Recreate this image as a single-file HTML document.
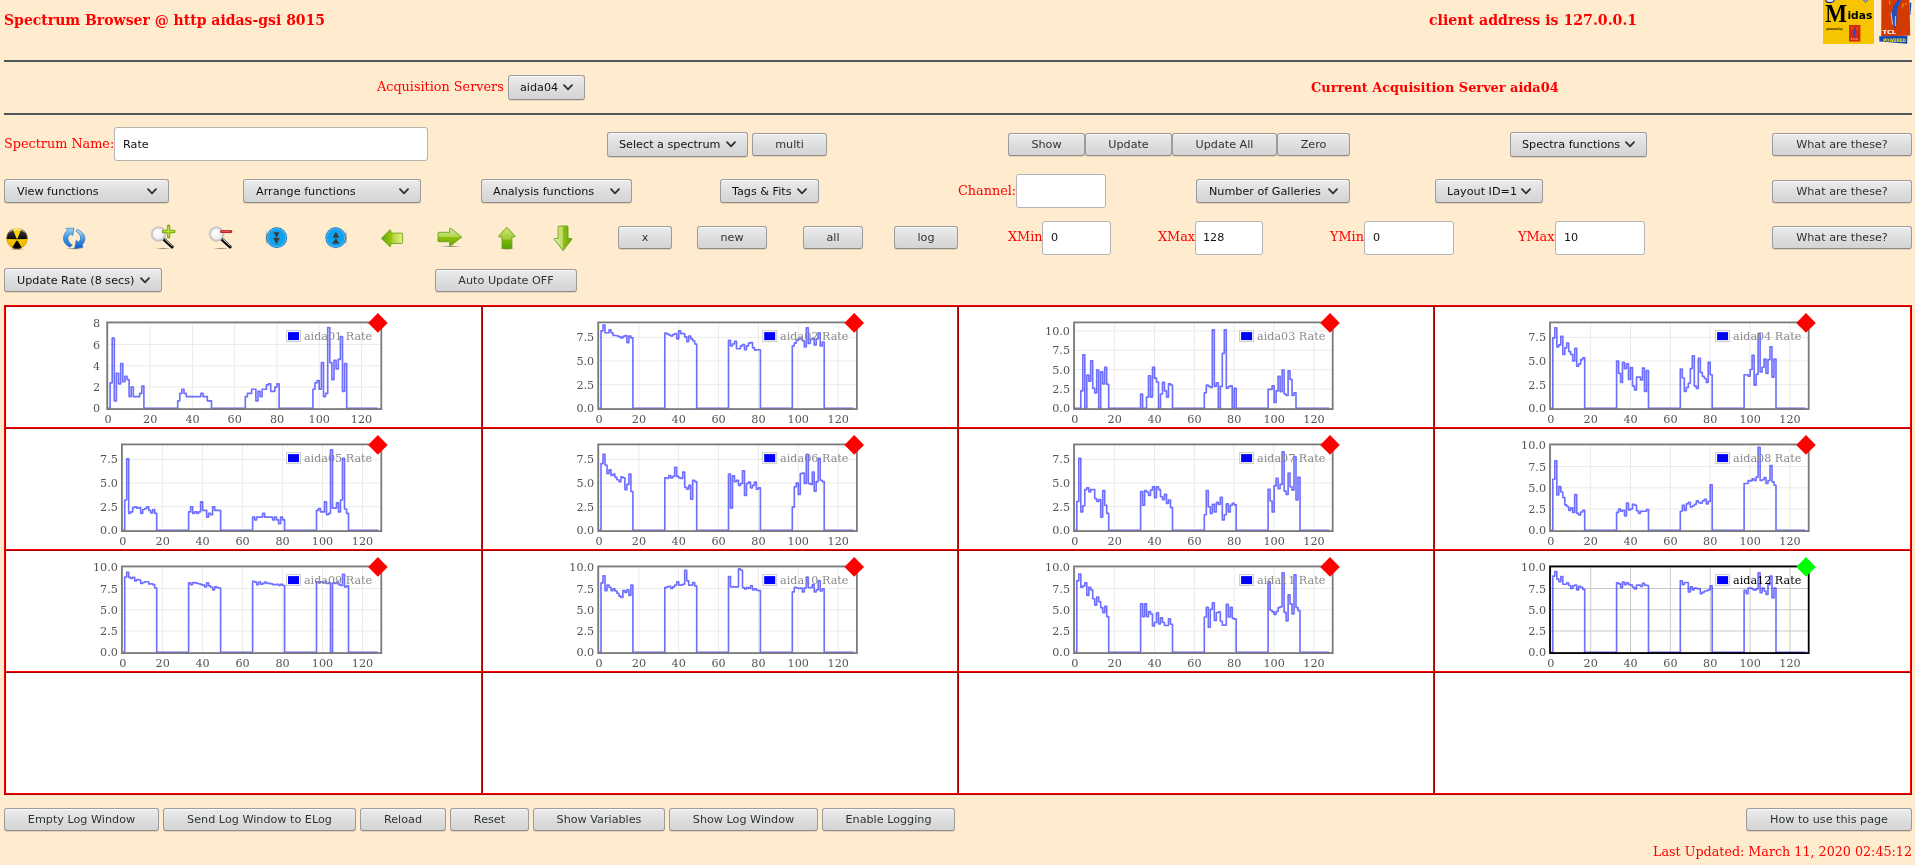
<!DOCTYPE html><html lang="en"><head><meta charset="utf-8"><title>Spectrum Browser @ http aidas-gsi 8015</title><style>
html,body{margin:0;padding:0}
body{width:1915px;height:865px;overflow:hidden;background:#ffebcd}
#page{position:absolute;left:0;top:0;width:1915px;height:865px;overflow:hidden;background:#ffebcd;will-change:transform;
 font-family:"DejaVu Serif","Liberation Serif",serif;font-size:12.8px;color:#f00}
.a{position:absolute;white-space:nowrap}
.t{position:absolute;white-space:nowrap;line-height:16px;height:16px}
.h{font-weight:bold;font-size:14px;line-height:18px;height:18px}
.hb{font-weight:bold}
hr.r{position:absolute;left:4px;width:1908px;height:2px;margin:0;border:0;background:#50555c}
button,.sel,input.i{position:absolute;box-sizing:border-box;font-family:"DejaVu Sans","Liberation Sans",sans-serif;font-size:11.2px;margin:0}
button{height:22px;padding:0;border:1px solid #9c9c9c;border-bottom-color:#8c8c8c;box-shadow:0 1px 0 rgba(120,100,70,.18),inset 0 1px 0 rgba(255,255,255,.75);border-radius:3px;color:#2e3436;
 background:linear-gradient(#ececec,#dcdcdc 60%,#d4d4d4);text-align:center;line-height:20px}
.sel{height:24px;border:1px solid #9c9c9c;border-bottom-color:#8c8c8c;box-shadow:0 1px 0 rgba(120,100,70,.18),inset 0 1px 0 rgba(255,255,255,.75);border-radius:3px;background:linear-gradient(#ececec,#dcdcdc 60%,#d4d4d4);display:block}
.sel select{appearance:none;-webkit-appearance:none;border:0;background:transparent;font:inherit;color:#111;
 width:100%;height:100%;padding:0 0 0 12px;margin:0;outline:0;display:block}
.sel svg{position:absolute;right:11px;top:50%;margin-top:-3.5px;width:10px;height:7px;pointer-events:none}
input.i{height:34px;border:1px solid #b4b4b4;border-radius:3px;background:#fff;color:#111;padding:0 0 2px 8px;outline:0}
#grid{position:absolute;left:4px;top:305px;width:1908px;height:490px;background:#fff}
#grid i{position:absolute;display:block}
.ch{position:absolute;overflow:visible}
.ch text{font-family:"DejaVu Serif","Liberation Serif",serif;font-size:11.2px;fill:#545454}
.ico{position:absolute;width:28px;height:28px;overflow:visible}
</style></head><body><div id="page">
<span class="t h" style="left:4px;top:11px">Spectrum Browser @ http aidas-gsi 8015</span>
<span class="t h" style="left:1429px;top:11px;font-size:14.13px">client address is 127.0.0.1</span>
<svg class="a" role="img" aria-label="Midas powered by TCL" style="left:1820px;top:0" width="95" height="48" viewBox="1820 0 95 48"><title>Midas powered by TCL</title>
<rect x="1823" y="0" width="51" height="44" fill="#f6c500"/>
<ellipse cx="1830" cy="0" rx="4.2" ry="2.6" fill="#e8e8f8" stroke="#1a2a8a" stroke-width="1.2"/>
<path d="M1863.5 0 L1865.5 2.6 L1867.5 0Z" fill="#f0f0ff" stroke="#2a3aa0" stroke-width="0.8"/>
<text x="1825.2" y="21.6" style="font-family:'Liberation Serif','DejaVu Serif',serif;font-weight:bold;font-size:24.5px;fill:#000" textLength="21.8" lengthAdjust="spacingAndGlyphs">M</text>
<text x="1847.4" y="19.2" style="font-family:'DejaVu Sans','Liberation Sans',sans-serif;font-weight:bold;font-size:10.6px;fill:#000" textLength="25" lengthAdjust="spacingAndGlyphs">idas</text>
<text x="1826.6" y="29.6" style="font-family:'DejaVu Sans','Liberation Sans',sans-serif;font-weight:bold;font-size:3.4px;fill:#111" textLength="16" lengthAdjust="spacingAndGlyphs">powered by</text>
<rect x="1849" y="25" width="11.4" height="16.6" fill="#d42a10"/>
<path d="M1855.6 27.4C1853.4 30 1852.8 34 1854.2 37.2C1855.8 34.4 1856.6 30.6 1855.6 27.4Z" fill="#2a50c8"/>
<path d="M1851.6 26.6L1852.6 29.4M1857.6 27.2L1856.8 29.6" stroke="#f4a020" stroke-width="0.7"/>
<text x="1850.2" y="40" style="font-family:'DejaVu Sans',sans-serif;font-weight:bold;font-size:2.4px;fill:#f8b0a0" textLength="8.6" lengthAdjust="spacingAndGlyphs">TCL</text>
<path d="M1881.4 0H1909.4L1910.2 35.6L1881.2 36.4Z" fill="#d23a02"/>
<path d="M1879.2 36.2L1907.4 35.8L1907.2 43.8L1879.4 41.6Z" fill="#1048b8"/>
<path d="M1909.6 3L1911.4 2.4L1910.4 15L1909.6 15Z" fill="#1048b8"/>
<path d="M1898.4 0C1893.4 4 1890.6 12 1892.2 20C1893 24 1894.2 27 1895.4 29.6C1896.6 24 1897 18 1896.6 12C1897.6 8 1899.6 3 1901.2 0Z" fill="#1c50c4"/>
<path d="M1891.0 12.6L1892.6 24.6M1895.4 16V26" stroke="#f0e8e0" stroke-width="0.8" fill="none"/>
<path d="M1889.4 0.6L1890.0 4.6M1903.4 3.4L1902.2 7.4M1906.4 2.8L1905.6 4.8" stroke="#f4a818" stroke-width="0.9"/>
<text x="1882.6" y="34" style="font-family:'DejaVu Sans','Liberation Sans',sans-serif;font-weight:bold;font-size:5.4px;fill:#fff" textLength="13.4" lengthAdjust="spacingAndGlyphs">TCL</text>
<text x="1883.2" y="41.6" style="font-family:'DejaVu Sans','Liberation Sans',sans-serif;font-weight:bold;font-size:4.8px;fill:#f2e020" textLength="22.6" lengthAdjust="spacingAndGlyphs">POWERED</text>
</svg>
<hr class="r" style="top:60px">
<span class="t " style="left:377px;top:79px">Acquisition Servers</span>
<label class="sel" style="left:508px;top:75px;width:77px;height:25px"><select style="padding-left:11px"><option>aida04</option><option>aida01</option><option>aida02</option><option>aida03</option></select><svg viewBox="0 0 10 7"><path d="M1 1.2 L5 5.4 L9 1.2" fill="none" stroke="#2e3436" stroke-width="1.8" stroke-linecap="round" stroke-linejoin="round"/></svg></label>
<span class="t hb" style="left:1311px;top:80px;font-size:12.9px">Current Acquisition Server aida04</span>
<hr class="r" style="top:113px">
<span class="t " style="left:4px;top:136px">Spectrum Name:</span>
<input class="i" type="text" value="Rate" style="left:114px;top:127px;width:314px;height:34px;padding-left:8px;padding-bottom:0px">
<label class="sel" style="left:607px;top:132px;width:141px;height:25px"><select style="padding-left:11px"><option>Select a spectrum</option></select><svg viewBox="0 0 10 7"><path d="M1 1.2 L5 5.4 L9 1.2" fill="none" stroke="#2e3436" stroke-width="1.8" stroke-linecap="round" stroke-linejoin="round"/></svg></label>
<button type="button" style="left:752px;top:133px;width:75px;height:23px">multi</button>
<button type="button" style="left:1008px;top:133px;width:77px;height:23px">Show</button>
<button type="button" style="left:1085px;top:133px;width:87px;height:23px">Update</button>
<button type="button" style="left:1172px;top:133px;width:105px;height:23px">Update All</button>
<button type="button" style="left:1277px;top:133px;width:73px;height:23px">Zero</button>
<label class="sel" style="left:1510px;top:132px;width:137px;height:25px"><select style="padding-left:11px"><option>Spectra functions</option></select><svg viewBox="0 0 10 7"><path d="M1 1.2 L5 5.4 L9 1.2" fill="none" stroke="#2e3436" stroke-width="1.8" stroke-linecap="round" stroke-linejoin="round"/></svg></label>
<button type="button" style="left:1772px;top:133px;width:140px;height:23px">What are these?</button>
<label class="sel" style="left:4px;top:179px;width:165px;height:24px"><select style="padding-left:12px"><option>View functions</option></select><svg viewBox="0 0 10 7"><path d="M1 1.2 L5 5.4 L9 1.2" fill="none" stroke="#2e3436" stroke-width="1.8" stroke-linecap="round" stroke-linejoin="round"/></svg></label>
<label class="sel" style="left:243px;top:179px;width:178px;height:24px"><select style="padding-left:12px"><option>Arrange functions</option></select><svg viewBox="0 0 10 7"><path d="M1 1.2 L5 5.4 L9 1.2" fill="none" stroke="#2e3436" stroke-width="1.8" stroke-linecap="round" stroke-linejoin="round"/></svg></label>
<label class="sel" style="left:481px;top:179px;width:151px;height:24px"><select style="padding-left:11px"><option>Analysis functions</option></select><svg viewBox="0 0 10 7"><path d="M1 1.2 L5 5.4 L9 1.2" fill="none" stroke="#2e3436" stroke-width="1.8" stroke-linecap="round" stroke-linejoin="round"/></svg></label>
<label class="sel" style="left:720px;top:179px;width:99px;height:24px"><select style="padding-left:11px"><option>Tags &amp; Fits</option></select><svg viewBox="0 0 10 7"><path d="M1 1.2 L5 5.4 L9 1.2" fill="none" stroke="#2e3436" stroke-width="1.8" stroke-linecap="round" stroke-linejoin="round"/></svg></label>
<span class="t " style="left:958px;top:183px">Channel:</span>
<input class="i" type="text" value="" style="left:1016px;top:174px;width:90px;height:34px;padding-left:8px;padding-bottom:2px">
<label class="sel" style="left:1196px;top:179px;width:154px;height:24px"><select style="padding-left:12px"><option>Number of Galleries</option></select><svg viewBox="0 0 10 7"><path d="M1 1.2 L5 5.4 L9 1.2" fill="none" stroke="#2e3436" stroke-width="1.8" stroke-linecap="round" stroke-linejoin="round"/></svg></label>
<label class="sel" style="left:1435px;top:179px;width:108px;height:24px"><select style="padding-left:11px"><option>Layout ID=1</option></select><svg viewBox="0 0 10 7"><path d="M1 1.2 L5 5.4 L9 1.2" fill="none" stroke="#2e3436" stroke-width="1.8" stroke-linecap="round" stroke-linejoin="round"/></svg></label>
<button type="button" style="left:1772px;top:180px;width:140px;height:23px">What are these?</button>
<svg class="a" style="left:0;top:220px" width="600" height="36" viewBox="0 220 600 36">
<defs>
<radialGradient id="gy" cx="0.5" cy="0.35" r="0.75"><stop offset="0" stop-color="#ffe000"/><stop offset="0.7" stop-color="#f2b800"/><stop offset="1" stop-color="#d89a00"/></radialGradient>
<linearGradient id="gk" x1="0" y1="0" x2="0" y2="1"><stop offset="0" stop-color="#3a3a40"/><stop offset="0.5" stop-color="#0c0c10"/><stop offset="1" stop-color="#000"/></linearGradient>
<linearGradient id="gb1" x1="0" y1="0" x2="0" y2="1"><stop offset="0" stop-color="#9fd2f7"/><stop offset="0.5" stop-color="#3b96e0"/><stop offset="1" stop-color="#1c6fcc"/></linearGradient>
<linearGradient id="gb2" x1="0" y1="0" x2="0" y2="1"><stop offset="0" stop-color="#c4e3fa"/><stop offset="0.45" stop-color="#4aa0e4"/><stop offset="1" stop-color="#0a5cc4"/></linearGradient>
<radialGradient id="gl" cx="0.45" cy="0.4" r="0.6"><stop offset="0" stop-color="#fff"/><stop offset="0.8" stop-color="#efecec"/><stop offset="1" stop-color="#ddd"/></radialGradient>
<radialGradient id="gc" cx="0.5" cy="0.5" r="0.5"><stop offset="0" stop-color="#0aa4ee"/><stop offset="0.78" stop-color="#12a0ec"/><stop offset="0.86" stop-color="#55bdf4"/><stop offset="0.93" stop-color="#1e8ee0"/><stop offset="1" stop-color="#1668b8"/></radialGradient>
<linearGradient id="gL" x1="0" y1="0" x2="1" y2="0"><stop offset="0" stop-color="#62a60c"/><stop offset="0.45" stop-color="#94c40e"/><stop offset="0.55" stop-color="#b4d63c"/><stop offset="1" stop-color="#e6ee8c"/></linearGradient>
<linearGradient id="gR" x1="0" y1="0" x2="0" y2="1"><stop offset="0" stop-color="#d2e898"/><stop offset="0.48" stop-color="#b4d650"/><stop offset="0.52" stop-color="#8cc010"/><stop offset="1" stop-color="#6aa80c"/></linearGradient>
<linearGradient id="gU" x1="0" y1="0" x2="0" y2="1"><stop offset="0" stop-color="#d0e470"/><stop offset="0.55" stop-color="#a4cc3c"/><stop offset="0.62" stop-color="#7cb80c"/><stop offset="1" stop-color="#58a008"/></linearGradient>
<linearGradient id="gD" x1="0" y1="0" x2="1" y2="0"><stop offset="0" stop-color="#e4f0a8"/><stop offset="0.48" stop-color="#bcd860"/><stop offset="0.52" stop-color="#8cc010"/><stop offset="1" stop-color="#6aa80c"/></linearGradient>
<radialGradient id="gs" cx="0.5" cy="0.5" r="0.5"><stop offset="0" stop-color="#000" stop-opacity="0.45"/><stop offset="1" stop-color="#000" stop-opacity="0"/></radialGradient>
</defs>
<ellipse cx="17.0" cy="249.1" rx="8" ry="1.3" fill="url(#gs)"/>
<circle cx="17.0" cy="238.5" r="10.5" fill="url(#gy)"/>
<path d="M17.0 239.5L27.49 239.05A10.5 10.5 0 0 0 21.27 228.91ZM17.0 239.5L12.73 228.91A10.5 10.5 0 0 0 6.51 239.05ZM17.0 239.5L12.23 247.86A10.5 10.5 0 0 0 21.77 247.86Z" fill="url(#gk)"/>
<path d="M6.8 240.1H27.2" stroke="#f6c800" stroke-width="1.2"/>
<circle cx="17.0" cy="238.5" r="10.2" fill="none" stroke="#c89000" stroke-opacity="0.55" stroke-width="0.7"/>
<path d="M8.4 232.9A10.2 10.2 0 0 1 25.6 232.9A12 9 0 0 0 8.4 232.9Z" fill="#fff" fill-opacity="0.55"/>
<ellipse cx="74.5" cy="248.6" rx="9" ry="1.2" fill="url(#gs)"/>
<path d="M70.0 247.2C66.0 245.4 63.2 242.0 63.5 238.0C63.6 235.0 65.0 232.4 67.4 230.4L66.0 228.4L73.9 228.1L72.9 235.4L70.5 234.0C68.6 235.6 67.8 237.0 67.9 238.6C68.0 241.2 69.8 243.6 72.3 245.1Z" fill="url(#gb1)" stroke="#1e6cc8" stroke-width="0.6" stroke-linejoin="round"/>
<path d="M77.0 229.6C81.2 230.8 84.8 234.2 84.85 238.3C84.9 241.0 83.8 243.2 82.0 245.0L83.0 247.2L74.7 248.4L76.2 240.4L78.3 241.9C79.8 240.8 80.7 239.6 80.7 238.3C80.7 235.6 78.8 233.0 76.0 231.2Z" fill="url(#gb2)" stroke="#1560c0" stroke-width="0.6" stroke-linejoin="round"/>
<ellipse cx="163.0" cy="248.5" rx="8" ry="1.1" fill="url(#gs)"/>
<path d="M164.1 239.5L172.1 246.9" stroke="#080808" stroke-width="3.2" stroke-linecap="round"/>
<path d="M165.1 239.29999999999998L172.1 245.79999999999998" stroke="#f4f4f4" stroke-width="0.9" stroke-linecap="round"/>
<circle cx="158.5" cy="234.1" r="6.6" fill="url(#gl)" stroke="#c6c6c6" stroke-width="1.7"/>
<circle cx="158.5" cy="234.1" r="7.5" fill="none" stroke="#b0b0b0" stroke-opacity="0.6" stroke-width="0.4"/>
<path d="M168.6 226.3V236.7M163.4 231.5H173.8" stroke="#6a9a10" stroke-width="3.4" stroke-linecap="round"/>
<path d="M168.6 226.5V236.5M163.6 231.5H173.6" stroke="#9ccc1c" stroke-width="2.2" stroke-linecap="round"/>
<path d="M168.3 227V236M164 231.2H173" stroke="#d8ee60" stroke-width="0.6" stroke-linecap="round"/>
<ellipse cx="221.0" cy="248.5" rx="8" ry="1.1" fill="url(#gs)"/>
<path d="M222.1 239.5L230.1 246.9" stroke="#080808" stroke-width="3.2" stroke-linecap="round"/>
<path d="M223.1 239.29999999999998L230.1 245.79999999999998" stroke="#f4f4f4" stroke-width="0.9" stroke-linecap="round"/>
<circle cx="216.5" cy="234.1" r="6.6" fill="url(#gl)" stroke="#c6c6c6" stroke-width="1.7"/>
<circle cx="216.5" cy="234.1" r="7.5" fill="none" stroke="#b0b0b0" stroke-opacity="0.6" stroke-width="0.4"/>
<path d="M221.6 231.5H230.6" stroke="#b01818" stroke-width="3.2" stroke-linecap="round"/>
<path d="M221.8 231.5H230.4" stroke="#dc2c2c" stroke-width="2" stroke-linecap="round"/>
<path d="M222 231.1H230" stroke="#f49090" stroke-width="0.6" stroke-linecap="round"/>
<ellipse cx="266.5" cy="237.75" rx="1.3" ry="8.5" fill="url(#gs)"/>
<circle cx="276.7" cy="237.75" r="10.4" fill="url(#gc)"/>
<path d="M273.59999999999997 232.15H279.4L276.5 238.05ZM273.3 238.05H279.7L276.5 244.25Z" fill="#3c3a38"/>
<ellipse cx="345.9" cy="237.75" rx="1.3" ry="8.5" fill="url(#gs)"/>
<circle cx="335.7" cy="237.75" r="10.4" fill="url(#gc)"/>
<path d="M335.9 231.85L339.2 237.65H332.59999999999997ZM335.9 237.95L339.3 243.75H332.5Z" fill="#3c3a38"/>
<path d="M381.4 238.3L389.8 230.0L390.8 230.4V233.1H401.8Q402.6 233.1 402.6 233.9V242.7Q402.6 243.5 401.8 243.5H390.8V246.2L389.8 246.6Z" fill="url(#gL)" stroke="#5c9c0c" stroke-width="0.8" stroke-linejoin="round"/>
<ellipse cx="451" cy="246.4" rx="11" ry="1.1" fill="url(#gs)"/>
<path d="M461.8 237.0L450.6 228.2L449.6 228.7V232.3H438.8Q438.0 232.3 438.0 233.1V240.9Q438.0 241.7 438.8 241.7H449.6V245.3L450.6 245.8Z" fill="url(#gR)" stroke="#5c9c0c" stroke-width="0.8" stroke-linejoin="round"/>
<ellipse cx="507" cy="248.8" rx="8.5" ry="1.1" fill="url(#gs)"/>
<path d="M506.8 227.2L515.1 236.0L514.7 236.9H511.9V247.7Q511.9 248.5 511.1 248.5H502.8Q502.0 248.5 502.0 247.7V236.9H499.0L498.6 236.0Z" fill="url(#gU)" stroke="#5c9c0c" stroke-width="0.8" stroke-linejoin="round"/>
<path d="M563.1 250.7L554.0 239.3L554.4 238.5H558.1V226.8Q558.1 226.0 558.9 226.0H567.2Q568.0 226.0 568.0 226.8V238.5H571.5L571.9 239.3Z" fill="url(#gD)" stroke="#5c9c0c" stroke-width="0.8" stroke-linejoin="round"/>
</svg>
<button type="button" style="left:618px;top:226px;width:54px;height:23px">x</button>
<button type="button" style="left:697px;top:226px;width:70px;height:23px">new</button>
<button type="button" style="left:803px;top:226px;width:60px;height:23px">all</button>
<button type="button" style="left:894px;top:226px;width:64px;height:23px">log</button>
<span class="t " style="left:1008px;top:229px">XMin</span>
<input class="i" type="text" value="0" style="left:1042px;top:221px;width:69px;height:34px;padding-left:8px;padding-bottom:2px">
<span class="t " style="left:1158px;top:229px">XMax</span>
<input class="i" type="text" value="128" style="left:1195px;top:221px;width:68px;height:34px;padding-left:7px;padding-bottom:2px">
<span class="t " style="left:1330px;top:229px">YMin</span>
<input class="i" type="text" value="0" style="left:1364px;top:221px;width:90px;height:34px;padding-left:8px;padding-bottom:2px">
<span class="t " style="left:1518px;top:229px">YMax</span>
<input class="i" type="text" value="10" style="left:1555px;top:221px;width:90px;height:34px;padding-left:8px;padding-bottom:2px">
<button type="button" style="left:1772px;top:226px;width:140px;height:23px">What are these?</button>
<label class="sel" style="left:4px;top:268px;width:158px;height:24px"><select style="padding-left:12px"><option>Update Rate (8 secs)</option></select><svg viewBox="0 0 10 7"><path d="M1 1.2 L5 5.4 L9 1.2" fill="none" stroke="#2e3436" stroke-width="1.8" stroke-linecap="round" stroke-linejoin="round"/></svg></label>
<button type="button" style="left:435px;top:269px;width:142px;height:23px">Auto Update OFF</button>
<div id="grid">
<i style="left:0px;top:0;width:1px;height:490px;background:#f00"></i><i style="left:1px;top:0;width:1px;height:490px;background:#a00"></i>
<i style="left:477px;top:0;width:1px;height:490px;background:#f00"></i><i style="left:478px;top:0;width:1px;height:490px;background:#a00"></i>
<i style="left:953px;top:0;width:1px;height:490px;background:#f00"></i><i style="left:954px;top:0;width:1px;height:490px;background:#a00"></i>
<i style="left:1429px;top:0;width:1px;height:490px;background:#f00"></i><i style="left:1430px;top:0;width:1px;height:490px;background:#a00"></i>
<i style="left:1906px;top:0;width:1px;height:490px;background:#f00"></i><i style="left:1907px;top:0;width:1px;height:490px;background:#a00"></i>
<i style="left:0;top:0px;width:1908px;height:1px;background:#f00"></i><i style="left:0;top:1px;width:1908px;height:1px;background:#a00"></i>
<i style="left:0;top:122px;width:1908px;height:1px;background:#f00"></i><i style="left:0;top:123px;width:1908px;height:1px;background:#a00"></i>
<i style="left:0;top:244px;width:1908px;height:1px;background:#f00"></i><i style="left:0;top:245px;width:1908px;height:1px;background:#a00"></i>
<i style="left:0;top:366px;width:1908px;height:1px;background:#f00"></i><i style="left:0;top:367px;width:1908px;height:1px;background:#a00"></i>
<i style="left:0;top:488px;width:1908px;height:1px;background:#f00"></i><i style="left:0;top:489px;width:1908px;height:1px;background:#a00"></i>
</div>
<svg class="ch" style="left:0;top:0" width="1915" height="865" viewBox="0 0 1915 865"><path d="M108.0 323.2V408.3M150.2 323.2V408.3M192.5 323.2V408.3M234.7 323.2V408.3M277.0 323.2V408.3M319.2 323.2V408.3M361.5 323.2V408.3M108.0 408.3H380.5M108.0 387.0H380.5M108.0 365.8H380.5M108.0 344.5H380.5M108.0 323.2H380.5" stroke="#e9e9e9" stroke-width="0.9" fill="none"/><path d="M108.0 408.3H110.1V382.8H112.2V338.1H114.3V400.9H116.4V373.2H118.6V383.8H120.7V363.6H122.8V381.7H124.9V376.4H127.0V379.6H129.1V396.6H131.2V387.0H133.3V396.6H139.7V393.4H141.8V386.0H143.9V408.3H177.7V400.9H179.8V393.4H181.9V389.2H184.0V393.4H186.2V396.6H200.9V393.4H203.1V396.6H207.3V400.9H211.5V408.3H245.3V396.6H247.4V393.4H251.6V389.2H255.9V400.9H258.0V391.3H260.1V396.6H262.2V389.2H266.4V384.9H268.5V383.8H270.7V391.3H274.9V387.0H277.0V383.8H279.1V408.3H312.9V389.2H315.0V382.8H317.1V380.6H319.2V389.2H321.4V362.6H323.5V396.6H325.6V393.4H327.7V327.5H329.8V362.6H331.9V379.6H334.0V360.4H336.1V368.9H338.3V359.4H340.4V336.5H342.5V391.3H344.6V363.6H346.7V408.3H377.8" stroke="#0404ff" stroke-opacity="0.57" stroke-width="1.65" fill="none" stroke-linejoin="round"/><rect x="107.2" y="322.4" width="274.1" height="86.7" fill="none" stroke="#7b7b7b" stroke-width="1.8"/><text x="108.0" y="423.3" text-anchor="middle">0</text><text x="150.2" y="423.3" text-anchor="middle">20</text><text x="192.5" y="423.3" text-anchor="middle">40</text><text x="234.7" y="423.3" text-anchor="middle">60</text><text x="277.0" y="423.3" text-anchor="middle">80</text><text x="319.2" y="423.3" text-anchor="middle">100</text><text x="361.5" y="423.3" text-anchor="middle">120</text><text x="100.2" y="412.3" text-anchor="end">0</text><text x="100.2" y="391.0" text-anchor="end">2</text><text x="100.2" y="369.8" text-anchor="end">4</text><text x="100.2" y="348.5" text-anchor="end">6</text><text x="100.2" y="327.2" text-anchor="end">8</text><rect x="286.5" y="330.6" width="14" height="11" fill="#fff" stroke="#ccc" stroke-width="1"/><rect x="288.0" y="332.1" width="11" height="8" fill="#00f"/><text x="303.9" y="340.4" style="fill:#8a8a8a">aida01 Rate</text><path d="M377.9 313.1L387.7 322.9L377.9 332.7L368.1 322.9Z" fill="#f00"/></svg>
<svg class="ch" style="left:0;top:0" width="1915" height="865" viewBox="0 0 1915 865"><path d="M599.0 323.2V408.3M638.9 323.2V408.3M678.7 323.2V408.3M718.6 323.2V408.3M758.4 323.2V408.3M798.3 323.2V408.3M838.2 323.2V408.3M599.0 408.3H856.1M599.0 384.7H856.1M599.0 361.0H856.1M599.0 337.4H856.1" stroke="#e9e9e9" stroke-width="0.9" fill="none"/><path d="M599.0 408.3H601.0V330.8H603.0V325.1H605.0V332.7H609.0V329.8H611.0V332.7H613.0V335.5H616.9V336.0H618.9V336.9H620.9V337.9H622.9V336.4H624.9V335.5H626.9V342.6H628.9V336.0H630.9V337.9H632.9V408.3H664.8V333.1H666.8V334.1H668.8V335.0H670.7V336.0H672.7V334.5H674.7V333.6H676.7V338.8H678.7V330.8H680.7V333.6H684.7V336.9H686.7V341.6H688.7V336.0H690.7V338.8H692.7V340.7H694.7V344.0H696.7V408.3H728.5V340.2H730.5V345.9H732.5V344.0H734.5V341.2H736.5V348.7H740.5V345.9H742.5V344.5H744.5V349.7H746.5V345.9H748.5V343.1H750.5V342.6H752.5V347.8H754.5V350.1H756.4V349.7H760.4V408.3H792.3V345.9H794.3V343.1H796.3V340.2H798.3V338.8H800.3V338.3H802.3V340.7H804.3V346.8H806.3V327.9H808.3V343.5H810.3V339.3H812.3V338.3H814.2V344.9H816.2V338.8H818.2V332.7H820.2V345.9H822.2V342.1H824.2V408.3H853.5" stroke="#0404ff" stroke-opacity="0.57" stroke-width="1.65" fill="none" stroke-linejoin="round"/><rect x="598.2" y="322.4" width="258.7" height="86.7" fill="none" stroke="#7b7b7b" stroke-width="1.8"/><text x="599.0" y="423.3" text-anchor="middle">0</text><text x="638.9" y="423.3" text-anchor="middle">20</text><text x="678.7" y="423.3" text-anchor="middle">40</text><text x="718.6" y="423.3" text-anchor="middle">60</text><text x="758.4" y="423.3" text-anchor="middle">80</text><text x="798.3" y="423.3" text-anchor="middle">100</text><text x="838.2" y="423.3" text-anchor="middle">120</text><text x="594.2" y="412.3" text-anchor="end">0.0</text><text x="594.2" y="388.7" text-anchor="end">2.5</text><text x="594.2" y="365.0" text-anchor="end">5.0</text><text x="594.2" y="341.4" text-anchor="end">7.5</text><rect x="762.7" y="330.6" width="14" height="11" fill="#fff" stroke="#ccc" stroke-width="1"/><rect x="764.2" y="332.1" width="11" height="8" fill="#00f"/><text x="780.1" y="340.4" style="fill:#8a8a8a">aida02 Rate</text><path d="M854.2 313.1L864.0 322.9L854.2 332.7L844.4 322.9Z" fill="#f00"/></svg>
<svg class="ch" style="left:0;top:0" width="1915" height="865" viewBox="0 0 1915 865"><path d="M1074.8 323.2V408.3M1114.7 323.2V408.3M1154.5 323.2V408.3M1194.4 323.2V408.3M1234.2 323.2V408.3M1274.1 323.2V408.3M1314.0 323.2V408.3M1074.8 408.3H1331.9M1074.8 389.0H1331.9M1074.8 369.6H1331.9M1074.8 350.3H1331.9M1074.8 330.9H1331.9" stroke="#e9e9e9" stroke-width="0.9" fill="none"/><path d="M1074.8 408.3H1080.8V390.9H1082.8V354.9H1084.8V408.3H1086.8V375.0H1088.8V381.2H1090.7V360.7H1092.7V388.2H1094.7V392.8H1096.7V370.0H1098.7V408.3H1100.7V371.9H1102.7V383.9H1104.7V367.3H1106.7V384.3H1108.7V408.3H1140.6V394.0H1142.6V408.3H1146.5V397.1H1148.5V375.8H1150.5V397.1H1152.5V367.3H1154.5V378.1H1156.5V382.0H1158.5V408.3H1160.5V394.0H1162.5V382.4H1164.5V390.9H1166.5V397.1H1168.5V383.9H1170.5V385.1H1172.5V408.3H1204.3V392.8H1206.3V385.1H1208.3V386.3H1210.3V387.4H1212.3V329.8H1214.3V386.3H1216.3V382.8H1218.3V408.3H1220.3V386.3H1222.3V353.4H1224.3V329.8H1226.3V388.2H1228.3V386.6H1230.3V385.9H1232.2V408.3H1234.2V388.2H1236.2V408.3H1268.1V389.3H1272.1V385.9H1274.1V402.5H1276.1V390.9H1278.1V376.2H1280.1V391.7H1282.1V370.0H1284.1V394.0H1286.1V395.5H1288.1V370.8H1290.0V379.3H1292.0V395.5H1294.0V392.8H1296.0V408.3H1329.3" stroke="#0404ff" stroke-opacity="0.57" stroke-width="1.65" fill="none" stroke-linejoin="round"/><rect x="1074.0" y="322.4" width="258.7" height="86.7" fill="none" stroke="#7b7b7b" stroke-width="1.8"/><text x="1074.8" y="423.3" text-anchor="middle">0</text><text x="1114.7" y="423.3" text-anchor="middle">20</text><text x="1154.5" y="423.3" text-anchor="middle">40</text><text x="1194.4" y="423.3" text-anchor="middle">60</text><text x="1234.2" y="423.3" text-anchor="middle">80</text><text x="1274.1" y="423.3" text-anchor="middle">100</text><text x="1314.0" y="423.3" text-anchor="middle">120</text><text x="1070.0" y="412.3" text-anchor="end">0.0</text><text x="1070.0" y="393.0" text-anchor="end">2.5</text><text x="1070.0" y="373.6" text-anchor="end">5.0</text><text x="1070.0" y="354.3" text-anchor="end">7.5</text><text x="1070.0" y="334.9" text-anchor="end">10.0</text><rect x="1239.6" y="330.6" width="14" height="11" fill="#fff" stroke="#ccc" stroke-width="1"/><rect x="1241.1" y="332.1" width="11" height="8" fill="#00f"/><text x="1257.0" y="340.4" style="fill:#8a8a8a">aida03 Rate</text><path d="M1330.0 313.1L1339.8 322.9L1330.0 332.7L1320.2 322.9Z" fill="#f00"/></svg>
<svg class="ch" style="left:0;top:0" width="1915" height="865" viewBox="0 0 1915 865"><path d="M1550.8 323.2V408.3M1590.7 323.2V408.3M1630.5 323.2V408.3M1670.4 323.2V408.3M1710.2 323.2V408.3M1750.1 323.2V408.3M1790.0 323.2V408.3M1550.8 408.3H1807.9M1550.8 384.7H1807.9M1550.8 361.0H1807.9M1550.8 337.4H1807.9" stroke="#e9e9e9" stroke-width="0.9" fill="none"/><path d="M1550.8 408.3H1552.8V337.9H1554.8V327.9H1556.8V346.8H1558.8V344.9H1560.8V336.4H1562.8V354.4H1564.8V347.8H1566.7V343.1H1568.7V351.6H1570.7V354.4H1572.7V361.0H1574.7V348.3H1576.7V366.2H1578.7V363.9H1580.7V359.6H1582.7V357.7H1584.7V408.3H1616.6V361.0H1618.6V373.3H1620.6V382.3H1622.5V362.4H1624.5V368.6H1626.5V363.9H1628.5V379.5H1630.5V367.6H1632.5V386.1H1634.5V389.9H1636.5V377.1H1640.5V379.9H1642.5V368.1H1644.5V391.3H1646.5V370.5H1648.5V408.3H1680.3V369.1H1682.3V378.0H1684.3V391.3H1686.3V387.5H1688.3V383.2H1690.3V368.6H1692.3V355.8H1694.3V386.1H1696.3V388.4H1698.3V358.2H1700.3V372.4H1702.3V376.2H1704.3V378.5H1706.3V382.3H1708.2V362.4H1710.2V374.7H1712.2V408.3H1744.1V374.7H1748.1V376.2H1750.1V369.5H1752.1V355.3H1754.1V385.1H1756.1V374.3H1758.1V333.6H1760.1V371.9H1762.1V367.2H1764.1V359.1H1766.0V373.3H1768.0V359.6H1770.0V346.8H1772.0V377.1H1774.0V359.1H1776.0V408.3H1805.3" stroke="#0404ff" stroke-opacity="0.57" stroke-width="1.65" fill="none" stroke-linejoin="round"/><rect x="1550.0" y="322.4" width="258.7" height="86.7" fill="none" stroke="#7b7b7b" stroke-width="1.8"/><text x="1550.8" y="423.3" text-anchor="middle">0</text><text x="1590.7" y="423.3" text-anchor="middle">20</text><text x="1630.5" y="423.3" text-anchor="middle">40</text><text x="1670.4" y="423.3" text-anchor="middle">60</text><text x="1710.2" y="423.3" text-anchor="middle">80</text><text x="1750.1" y="423.3" text-anchor="middle">100</text><text x="1790.0" y="423.3" text-anchor="middle">120</text><text x="1546.0" y="412.3" text-anchor="end">0.0</text><text x="1546.0" y="388.7" text-anchor="end">2.5</text><text x="1546.0" y="365.0" text-anchor="end">5.0</text><text x="1546.0" y="341.4" text-anchor="end">7.5</text><rect x="1715.6" y="330.6" width="14" height="11" fill="#fff" stroke="#ccc" stroke-width="1"/><rect x="1717.1" y="332.1" width="11" height="8" fill="#00f"/><text x="1733.0" y="340.4" style="fill:#8a8a8a">aida04 Rate</text><path d="M1806.0 313.1L1815.8 322.9L1806.0 332.7L1796.2 322.9Z" fill="#f00"/></svg>
<svg class="ch" style="left:0;top:0" width="1915" height="865" viewBox="0 0 1915 865"><path d="M122.7 445.2V530.3M162.7 445.2V530.3M202.6 445.2V530.3M242.6 445.2V530.3M282.6 445.2V530.3M322.5 445.2V530.3M362.5 445.2V530.3M122.7 530.3H380.5M122.7 506.7H380.5M122.7 483.0H380.5M122.7 459.4H380.5" stroke="#e9e9e9" stroke-width="0.9" fill="none"/><path d="M122.7 530.3H124.7V500.0H126.7V458.9H128.7V513.3H130.7V511.9H132.7V507.6H134.7V506.7H136.7V508.1H138.7V507.6H140.7V513.3H142.7V509.5H144.7V508.6H146.7V506.7H148.7V510.4H150.7V512.8H152.7V509.5H154.7V513.3H156.7V530.3H188.6V511.9H190.6V506.7H192.6V513.3H194.6V511.9H196.6V513.3H198.6V511.9H200.6V501.9H202.6V510.4H206.6V517.1H208.6V513.3H210.6V514.7H212.6V506.7H214.6V510.4H220.6V530.3H252.6V517.1H254.6V519.9H256.6V517.1H262.6V513.3H264.6V517.1H272.6V519.9H274.6V517.1H276.6V519.9H278.6V523.7H280.6V517.1H282.6V519.9H284.6V530.3H316.5V510.4H318.5V508.6H320.5V511.9H324.5V501.9H326.5V514.7H328.5V513.3H330.5V449.9H332.5V508.1H336.5V502.9H338.5V511.9H340.5V500.0H342.5V458.4H344.5V509.0H346.5V513.3H348.5V530.3H377.9" stroke="#0404ff" stroke-opacity="0.57" stroke-width="1.65" fill="none" stroke-linejoin="round"/><rect x="121.9" y="444.4" width="259.4" height="86.7" fill="none" stroke="#7b7b7b" stroke-width="1.8"/><text x="122.7" y="545.3" text-anchor="middle">0</text><text x="162.7" y="545.3" text-anchor="middle">20</text><text x="202.6" y="545.3" text-anchor="middle">40</text><text x="242.6" y="545.3" text-anchor="middle">60</text><text x="282.6" y="545.3" text-anchor="middle">80</text><text x="322.5" y="545.3" text-anchor="middle">100</text><text x="362.5" y="545.3" text-anchor="middle">120</text><text x="117.9" y="534.3" text-anchor="end">0.0</text><text x="117.9" y="510.7" text-anchor="end">2.5</text><text x="117.9" y="487.0" text-anchor="end">5.0</text><text x="117.9" y="463.4" text-anchor="end">7.5</text><rect x="286.5" y="452.6" width="14" height="11" fill="#fff" stroke="#ccc" stroke-width="1"/><rect x="288.0" y="454.1" width="11" height="8" fill="#00f"/><text x="303.9" y="462.4" style="fill:#8a8a8a">aida05 Rate</text><path d="M377.9 435.1L387.7 444.9L377.9 454.7L368.1 444.9Z" fill="#f00"/></svg>
<svg class="ch" style="left:0;top:0" width="1915" height="865" viewBox="0 0 1915 865"><path d="M599.0 445.2V530.3M638.9 445.2V530.3M678.7 445.2V530.3M718.6 445.2V530.3M758.4 445.2V530.3M798.3 445.2V530.3M838.2 445.2V530.3M599.0 530.3H856.1M599.0 506.7H856.1M599.0 483.0H856.1M599.0 459.4H856.1" stroke="#e9e9e9" stroke-width="0.9" fill="none"/><path d="M599.0 530.3H601.0V463.6H603.0V454.2H605.0V465.1H607.0V473.6H609.0V469.8H611.0V475.5H613.0V474.0H614.9V477.3H616.9V479.7H618.9V481.6H620.9V476.9H622.9V477.8H624.9V489.6H626.9V484.4H628.9V474.0H630.9V491.5H632.9V530.3H664.8V477.8H666.8V478.3H668.8V475.5H670.7V477.8H672.7V476.4H674.7V467.4H676.7V476.4H678.7V477.8H680.7V478.3H682.7V472.1H684.7V487.3H686.7V489.2H688.7V485.4H690.7V499.1H692.7V480.2H694.7V481.6H696.7V530.3H728.5V474.0H730.5V508.1H732.5V475.9H734.5V481.6H736.5V480.2H738.5V485.4H740.5V483.5H742.5V470.7H744.5V495.3H746.5V483.5H748.5V482.1H750.5V487.8H752.5V485.4H754.5V482.1H756.4V489.2H758.4V487.8H760.4V530.3H792.3V507.1H794.3V486.8H796.3V483.0H798.3V494.4H800.3V473.6H802.3V473.1H804.3V483.5H806.3V454.2H808.3V483.5H810.3V484.4H812.3V472.1H814.2V491.1H816.2V481.6H818.2V458.4H820.2V480.2H822.2V481.6H824.2V530.3H853.5" stroke="#0404ff" stroke-opacity="0.57" stroke-width="1.65" fill="none" stroke-linejoin="round"/><rect x="598.2" y="444.4" width="258.7" height="86.7" fill="none" stroke="#7b7b7b" stroke-width="1.8"/><text x="599.0" y="545.3" text-anchor="middle">0</text><text x="638.9" y="545.3" text-anchor="middle">20</text><text x="678.7" y="545.3" text-anchor="middle">40</text><text x="718.6" y="545.3" text-anchor="middle">60</text><text x="758.4" y="545.3" text-anchor="middle">80</text><text x="798.3" y="545.3" text-anchor="middle">100</text><text x="838.2" y="545.3" text-anchor="middle">120</text><text x="594.2" y="534.3" text-anchor="end">0.0</text><text x="594.2" y="510.7" text-anchor="end">2.5</text><text x="594.2" y="487.0" text-anchor="end">5.0</text><text x="594.2" y="463.4" text-anchor="end">7.5</text><rect x="762.7" y="452.6" width="14" height="11" fill="#fff" stroke="#ccc" stroke-width="1"/><rect x="764.2" y="454.1" width="11" height="8" fill="#00f"/><text x="780.1" y="462.4" style="fill:#8a8a8a">aida06 Rate</text><path d="M854.2 435.1L864.0 444.9L854.2 454.7L844.4 444.9Z" fill="#f00"/></svg>
<svg class="ch" style="left:0;top:0" width="1915" height="865" viewBox="0 0 1915 865"><path d="M1074.8 445.2V530.3M1114.7 445.2V530.3M1154.5 445.2V530.3M1194.4 445.2V530.3M1234.2 445.2V530.3M1274.1 445.2V530.3M1314.0 445.2V530.3M1074.8 530.3H1331.9M1074.8 506.7H1331.9M1074.8 483.0H1331.9M1074.8 459.4H1331.9" stroke="#e9e9e9" stroke-width="0.9" fill="none"/><path d="M1074.8 530.3H1076.8V501.5H1078.8V458.4H1080.8V511.9H1082.8V505.7H1084.8V489.6H1086.8V487.8H1088.8V492.0H1090.7V489.6H1094.7V498.6H1096.7V501.5H1098.7V499.6H1100.7V517.1H1102.7V490.6H1104.7V505.2H1106.7V513.3H1108.7V530.3H1140.6V491.5H1142.6V505.2H1144.6V490.6H1146.5V492.0H1148.5V495.3H1150.5V490.1H1152.5V486.8H1154.5V497.7H1156.5V486.8H1158.5V489.6H1160.5V496.7H1162.5V499.6H1164.5V494.4H1166.5V503.4H1168.5V500.0H1170.5V507.6H1172.5V530.3H1204.3V514.7H1206.3V490.6H1208.3V506.7H1210.3V513.3H1212.3V504.3H1214.3V511.9H1216.3V502.4H1218.3V504.3H1220.3V497.2H1222.3V519.9H1224.3V514.7H1226.3V503.8H1228.3V511.9H1230.3V505.2H1232.2V503.4H1234.2V504.8H1236.2V530.3H1268.1V489.2H1270.1V501.0H1272.1V511.9H1274.1V485.9H1276.1V478.3H1278.1V488.7H1280.1V484.4H1282.1V451.8H1284.1V491.1H1286.1V494.4H1288.1V473.1H1290.0V486.8H1292.0V490.1H1294.0V456.5H1296.0V500.0H1298.0V477.3H1300.0V530.3H1329.3" stroke="#0404ff" stroke-opacity="0.57" stroke-width="1.65" fill="none" stroke-linejoin="round"/><rect x="1074.0" y="444.4" width="258.7" height="86.7" fill="none" stroke="#7b7b7b" stroke-width="1.8"/><text x="1074.8" y="545.3" text-anchor="middle">0</text><text x="1114.7" y="545.3" text-anchor="middle">20</text><text x="1154.5" y="545.3" text-anchor="middle">40</text><text x="1194.4" y="545.3" text-anchor="middle">60</text><text x="1234.2" y="545.3" text-anchor="middle">80</text><text x="1274.1" y="545.3" text-anchor="middle">100</text><text x="1314.0" y="545.3" text-anchor="middle">120</text><text x="1070.0" y="534.3" text-anchor="end">0.0</text><text x="1070.0" y="510.7" text-anchor="end">2.5</text><text x="1070.0" y="487.0" text-anchor="end">5.0</text><text x="1070.0" y="463.4" text-anchor="end">7.5</text><rect x="1239.6" y="452.6" width="14" height="11" fill="#fff" stroke="#ccc" stroke-width="1"/><rect x="1241.1" y="454.1" width="11" height="8" fill="#00f"/><text x="1257.0" y="462.4" style="fill:#8a8a8a">aida07 Rate</text><path d="M1330.0 435.1L1339.8 444.9L1330.0 454.7L1320.2 444.9Z" fill="#f00"/></svg>
<svg class="ch" style="left:0;top:0" width="1915" height="865" viewBox="0 0 1915 865"><path d="M1550.8 445.2V530.3M1590.7 445.2V530.3M1630.5 445.2V530.3M1670.4 445.2V530.3M1710.2 445.2V530.3M1750.1 445.2V530.3M1790.0 445.2V530.3M1550.8 530.3H1807.9M1550.8 509.0H1807.9M1550.8 487.8H1807.9M1550.8 466.5H1807.9M1550.8 445.2H1807.9" stroke="#e9e9e9" stroke-width="0.9" fill="none"/><path d="M1550.8 530.3H1552.8V479.2H1554.8V460.9H1556.8V495.0H1558.8V486.5H1560.8V492.0H1562.8V497.5H1564.8V504.8H1566.7V506.5H1568.7V510.3H1570.7V507.7H1572.7V512.4H1574.7V494.6H1576.7V513.3H1578.7V515.0H1580.7V512.0H1582.7V510.3H1584.7V530.3H1616.6V512.4H1618.6V509.0H1620.6V511.2H1622.5V510.3H1624.5V515.8H1626.5V503.1H1628.5V509.9H1630.5V509.0H1632.5V504.3H1634.5V505.2H1636.5V510.7H1638.5V513.3H1640.5V511.2H1646.5V509.5H1648.5V530.3H1680.3V511.2H1682.3V505.2H1684.3V510.3H1686.3V503.9H1688.3V502.2H1690.3V506.9H1692.3V506.0H1694.3V504.3H1696.3V500.9H1698.3V502.6H1700.3V503.1H1702.3V500.9H1704.3V499.2H1706.3V503.9H1708.2V501.4H1710.2V484.8H1712.2V530.3H1744.1V483.5H1748.1V480.5H1750.1V480.9H1752.1V478.8H1754.1V480.5H1756.1V477.1H1758.1V447.3H1760.1V480.5H1762.1V479.7H1764.1V477.5H1766.0V483.5H1768.0V480.5H1770.0V465.6H1772.0V481.8H1774.0V485.2H1776.0V530.3H1805.3" stroke="#0404ff" stroke-opacity="0.57" stroke-width="1.65" fill="none" stroke-linejoin="round"/><rect x="1550.0" y="444.4" width="258.7" height="86.7" fill="none" stroke="#7b7b7b" stroke-width="1.8"/><text x="1550.8" y="545.3" text-anchor="middle">0</text><text x="1590.7" y="545.3" text-anchor="middle">20</text><text x="1630.5" y="545.3" text-anchor="middle">40</text><text x="1670.4" y="545.3" text-anchor="middle">60</text><text x="1710.2" y="545.3" text-anchor="middle">80</text><text x="1750.1" y="545.3" text-anchor="middle">100</text><text x="1790.0" y="545.3" text-anchor="middle">120</text><text x="1546.0" y="534.3" text-anchor="end">0.0</text><text x="1546.0" y="513.0" text-anchor="end">2.5</text><text x="1546.0" y="491.8" text-anchor="end">5.0</text><text x="1546.0" y="470.5" text-anchor="end">7.5</text><text x="1546.0" y="449.2" text-anchor="end">10.0</text><rect x="1715.6" y="452.6" width="14" height="11" fill="#fff" stroke="#ccc" stroke-width="1"/><rect x="1717.1" y="454.1" width="11" height="8" fill="#00f"/><text x="1733.0" y="462.4" style="fill:#8a8a8a">aida08 Rate</text><path d="M1806.0 435.1L1815.8 444.9L1806.0 454.7L1796.2 444.9Z" fill="#f00"/></svg>
<svg class="ch" style="left:0;top:0" width="1915" height="865" viewBox="0 0 1915 865"><path d="M122.7 567.2V652.3M162.7 567.2V652.3M202.6 567.2V652.3M242.6 567.2V652.3M282.6 567.2V652.3M322.5 567.2V652.3M362.5 567.2V652.3M122.7 652.3H380.5M122.7 631.0H380.5M122.7 609.8H380.5M122.7 588.5H380.5M122.7 567.2H380.5" stroke="#e9e9e9" stroke-width="0.9" fill="none"/><path d="M122.7 652.3H124.7V577.0H126.7V572.3H128.7V577.4H130.7V578.3H132.7V577.4H134.7V580.8H136.7V579.5H138.7V580.0H140.7V583.4H142.7V582.5H144.7V581.7H148.7V583.8H152.7V584.6H154.7V588.0H156.7V652.3H188.6V582.9H190.6V584.6H192.6V582.5H194.6V582.9H196.6V583.4H198.6V583.8H200.6V584.6H202.6V585.1H204.6V586.8H206.6V582.9H208.6V585.9H210.6V587.2H212.6V589.8H214.6V586.8H216.6V587.6H218.6V588.0H220.6V652.3H252.6V581.2H254.6V582.1H256.6V584.6H258.6V582.1H260.6V584.2H262.6V583.4H264.6V582.1H266.6V583.4H270.6V583.8H272.6V584.6H276.6V584.2H278.6V585.5H280.6V584.2H282.6V585.5H284.6V652.3H316.5V581.7H318.5V582.5H320.5V581.7H322.5V582.5H324.5V582.1H326.5V583.4H328.5V582.9H330.5V652.3H332.5V582.9H334.5V583.4H336.5V582.1H338.5V584.6H340.5V585.5H342.5V574.4H344.5V586.8H346.5V585.9H348.5V652.3H377.9" stroke="#0404ff" stroke-opacity="0.57" stroke-width="1.65" fill="none" stroke-linejoin="round"/><rect x="121.9" y="566.4" width="259.4" height="86.7" fill="none" stroke="#7b7b7b" stroke-width="1.8"/><text x="122.7" y="667.3" text-anchor="middle">0</text><text x="162.7" y="667.3" text-anchor="middle">20</text><text x="202.6" y="667.3" text-anchor="middle">40</text><text x="242.6" y="667.3" text-anchor="middle">60</text><text x="282.6" y="667.3" text-anchor="middle">80</text><text x="322.5" y="667.3" text-anchor="middle">100</text><text x="362.5" y="667.3" text-anchor="middle">120</text><text x="117.9" y="656.3" text-anchor="end">0.0</text><text x="117.9" y="635.0" text-anchor="end">2.5</text><text x="117.9" y="613.8" text-anchor="end">5.0</text><text x="117.9" y="592.5" text-anchor="end">7.5</text><text x="117.9" y="571.2" text-anchor="end">10.0</text><rect x="286.5" y="574.6" width="14" height="11" fill="#fff" stroke="#ccc" stroke-width="1"/><rect x="288.0" y="576.1" width="11" height="8" fill="#00f"/><text x="303.9" y="584.4" style="fill:#8a8a8a">aida09 Rate</text><path d="M377.9 557.1L387.7 566.9L377.9 576.7L368.1 566.9Z" fill="#f00"/></svg>
<svg class="ch" style="left:0;top:0" width="1915" height="865" viewBox="0 0 1915 865"><path d="M599.0 567.2V652.3M638.9 567.2V652.3M678.7 567.2V652.3M718.6 567.2V652.3M758.4 567.2V652.3M798.3 567.2V652.3M838.2 567.2V652.3M599.0 652.3H856.1M599.0 631.0H856.1M599.0 609.8H856.1M599.0 588.5H856.1M599.0 567.2H856.1" stroke="#e9e9e9" stroke-width="0.9" fill="none"/><path d="M599.0 652.3H601.0V582.9H603.0V575.7H605.0V590.6H607.0V585.1H609.0V587.2H611.0V590.6H613.0V588.9H614.9V591.0H616.9V593.2H618.9V596.1H620.9V597.4H622.9V590.6H624.9V592.3H626.9V589.8H628.9V595.3H630.9V585.1H632.9V652.3H664.8V587.6H666.8V586.8H668.8V586.3H670.7V588.5H672.7V586.8H674.7V585.1H676.7V581.7H678.7V585.1H682.7V584.2H684.7V570.2H686.7V580.8H688.7V585.1H692.7V582.5H694.7V585.9H696.7V652.3H728.5V576.6H730.5V586.8H738.5V568.9H740.5V570.2H742.5V587.6H744.5V588.9H746.5V587.6H748.5V588.5H750.5V585.9H752.5V589.8H754.5V588.9H756.4V590.2H758.4V590.6H760.4V652.3H792.3V591.9H794.3V587.2H796.3V588.0H798.3V588.5H800.3V588.0H802.3V591.9H804.3V588.0H806.3V577.4H808.3V587.6H812.3V584.6H814.2V591.9H816.2V589.8H818.2V580.8H820.2V591.0H822.2V588.9H824.2V652.3H853.5" stroke="#0404ff" stroke-opacity="0.57" stroke-width="1.65" fill="none" stroke-linejoin="round"/><rect x="598.2" y="566.4" width="258.7" height="86.7" fill="none" stroke="#7b7b7b" stroke-width="1.8"/><text x="599.0" y="667.3" text-anchor="middle">0</text><text x="638.9" y="667.3" text-anchor="middle">20</text><text x="678.7" y="667.3" text-anchor="middle">40</text><text x="718.6" y="667.3" text-anchor="middle">60</text><text x="758.4" y="667.3" text-anchor="middle">80</text><text x="798.3" y="667.3" text-anchor="middle">100</text><text x="838.2" y="667.3" text-anchor="middle">120</text><text x="594.2" y="656.3" text-anchor="end">0.0</text><text x="594.2" y="635.0" text-anchor="end">2.5</text><text x="594.2" y="613.8" text-anchor="end">5.0</text><text x="594.2" y="592.5" text-anchor="end">7.5</text><text x="594.2" y="571.2" text-anchor="end">10.0</text><rect x="762.7" y="574.6" width="14" height="11" fill="#fff" stroke="#ccc" stroke-width="1"/><rect x="764.2" y="576.1" width="11" height="8" fill="#00f"/><text x="780.1" y="584.4" style="fill:#8a8a8a">aida10 Rate</text><path d="M854.2 557.1L864.0 566.9L854.2 576.7L844.4 566.9Z" fill="#f00"/></svg>
<svg class="ch" style="left:0;top:0" width="1915" height="865" viewBox="0 0 1915 865"><path d="M1074.8 567.2V652.3M1114.7 567.2V652.3M1154.5 567.2V652.3M1194.4 567.2V652.3M1234.2 567.2V652.3M1274.1 567.2V652.3M1314.0 567.2V652.3M1074.8 652.3H1331.9M1074.8 631.0H1331.9M1074.8 609.8H1331.9M1074.8 588.5H1331.9M1074.8 567.2H1331.9" stroke="#e9e9e9" stroke-width="0.9" fill="none"/><path d="M1074.8 652.3H1076.8V580.8H1078.8V574.0H1080.8V587.2H1082.8V585.9H1084.8V582.9H1086.8V595.3H1088.8V587.2H1090.7V589.8H1092.7V598.7H1094.7V605.1H1096.7V597.0H1098.7V601.7H1100.7V607.6H1102.7V612.7H1104.7V606.3H1106.7V616.6H1108.7V652.3H1140.6V603.8H1142.6V616.6H1144.6V603.8H1146.5V616.6H1148.5V611.5H1150.5V614.0H1152.5V625.9H1154.5V622.5H1156.5V612.7H1158.5V623.8H1160.5V617.8H1162.5V622.5H1164.5V625.5H1168.5V618.7H1170.5V624.2H1172.5V652.3H1204.3V617.0H1206.3V607.2H1208.3V627.2H1210.3V609.3H1212.3V602.9H1214.3V620.4H1216.3V612.7H1218.3V611.9H1220.3V621.2H1222.3V625.1H1226.3V604.2H1228.3V617.0H1230.3V607.2H1232.2V618.3H1234.2V619.1H1236.2V652.3H1268.1V581.7H1270.1V610.2H1272.1V611.9H1274.1V614.4H1276.1V611.5H1278.1V607.6H1280.1V606.8H1282.1V572.7H1284.1V612.3H1286.1V620.8H1288.1V594.9H1290.0V603.8H1292.0V614.0H1294.0V574.9H1296.0V607.6H1298.0V610.6H1300.0V652.3H1329.3" stroke="#0404ff" stroke-opacity="0.57" stroke-width="1.65" fill="none" stroke-linejoin="round"/><rect x="1074.0" y="566.4" width="258.7" height="86.7" fill="none" stroke="#7b7b7b" stroke-width="1.8"/><text x="1074.8" y="667.3" text-anchor="middle">0</text><text x="1114.7" y="667.3" text-anchor="middle">20</text><text x="1154.5" y="667.3" text-anchor="middle">40</text><text x="1194.4" y="667.3" text-anchor="middle">60</text><text x="1234.2" y="667.3" text-anchor="middle">80</text><text x="1274.1" y="667.3" text-anchor="middle">100</text><text x="1314.0" y="667.3" text-anchor="middle">120</text><text x="1070.0" y="656.3" text-anchor="end">0.0</text><text x="1070.0" y="635.0" text-anchor="end">2.5</text><text x="1070.0" y="613.8" text-anchor="end">5.0</text><text x="1070.0" y="592.5" text-anchor="end">7.5</text><text x="1070.0" y="571.2" text-anchor="end">10.0</text><rect x="1239.6" y="574.6" width="14" height="11" fill="#fff" stroke="#ccc" stroke-width="1"/><rect x="1241.1" y="576.1" width="11" height="8" fill="#00f"/><text x="1257.0" y="584.4" style="fill:#8a8a8a">aida11 Rate</text><path d="M1330.0 557.1L1339.8 566.9L1330.0 576.7L1320.2 566.9Z" fill="#f00"/></svg>
<svg class="ch" style="left:0;top:0" width="1915" height="865" viewBox="0 0 1915 865"><path d="M1550.8 567.2V652.3M1590.7 567.2V652.3M1630.5 567.2V652.3M1670.4 567.2V652.3M1710.2 567.2V652.3M1750.1 567.2V652.3M1790.0 567.2V652.3M1550.8 652.3H1807.9M1550.8 631.0H1807.9M1550.8 609.8H1807.9M1550.8 588.5H1807.9M1550.8 567.2H1807.9" stroke="#c4c4c4" stroke-width="0.9" fill="none"/><path d="M1550.8 652.3H1552.8V576.1H1554.8V571.5H1556.8V579.1H1558.8V581.7H1560.8V576.6H1562.8V584.2H1566.7V582.9H1568.7V585.5H1570.7V588.5H1572.7V585.9H1574.7V585.1H1576.7V589.8H1578.7V586.3H1580.7V587.2H1582.7V589.3H1584.7V652.3H1616.6V582.9H1618.6V583.8H1620.6V587.6H1622.5V582.1H1624.5V584.6H1626.5V582.9H1628.5V584.6H1630.5V585.1H1632.5V587.2H1634.5V588.9H1636.5V585.1H1640.5V586.3H1642.5V583.4H1644.5V585.1H1646.5V585.5H1648.5V652.3H1680.3V580.8H1682.3V584.6H1684.3V582.5H1688.3V591.9H1690.3V586.8H1692.3V589.8H1694.3V588.0H1696.3V588.5H1698.3V588.9H1700.3V593.6H1702.3V592.3H1704.3V591.0H1706.3V590.6H1708.2V589.8H1710.2V585.9H1712.2V652.3H1744.1V590.2H1746.1V593.6H1748.1V588.0H1752.1V589.3H1754.1V590.2H1756.1V588.9H1758.1V572.7H1760.1V592.7H1762.1V588.0H1764.1V591.0H1766.0V594.4H1768.0V584.6H1770.0V576.1H1772.0V597.8H1774.0V588.0H1776.0V652.3H1805.3" stroke="#0404ff" stroke-opacity="0.57" stroke-width="1.65" fill="none" stroke-linejoin="round"/><rect x="1550.0" y="566.4" width="258.7" height="86.7" fill="none" stroke="#000" stroke-width="1.8"/><text x="1550.8" y="667.3" text-anchor="middle">0</text><text x="1590.7" y="667.3" text-anchor="middle">20</text><text x="1630.5" y="667.3" text-anchor="middle">40</text><text x="1670.4" y="667.3" text-anchor="middle">60</text><text x="1710.2" y="667.3" text-anchor="middle">80</text><text x="1750.1" y="667.3" text-anchor="middle">100</text><text x="1790.0" y="667.3" text-anchor="middle">120</text><text x="1546.0" y="656.3" text-anchor="end">0.0</text><text x="1546.0" y="635.0" text-anchor="end">2.5</text><text x="1546.0" y="613.8" text-anchor="end">5.0</text><text x="1546.0" y="592.5" text-anchor="end">7.5</text><text x="1546.0" y="571.2" text-anchor="end">10.0</text><rect x="1715.6" y="574.6" width="14" height="11" fill="#fff" stroke="#ccc" stroke-width="1"/><rect x="1717.1" y="576.1" width="11" height="8" fill="#00f"/><text x="1733.0" y="584.4" style="fill:#000">aida12 Rate</text><path d="M1806.0 557.1L1815.8 566.9L1806.0 576.7L1796.2 566.9Z" fill="#0f0"/></svg>
<button type="button" style="left:4px;top:808px;width:155px;height:23px">Empty Log Window</button>
<button type="button" style="left:163px;top:808px;width:193px;height:23px">Send Log Window to ELog</button>
<button type="button" style="left:360px;top:808px;width:86px;height:23px">Reload</button>
<button type="button" style="left:450px;top:808px;width:79px;height:23px">Reset</button>
<button type="button" style="left:533px;top:808px;width:132px;height:23px">Show Variables</button>
<button type="button" style="left:669px;top:808px;width:149px;height:23px">Show Log Window</button>
<button type="button" style="left:822px;top:808px;width:133px;height:23px">Enable Logging</button>
<button type="button" style="left:1746px;top:808px;width:166px;height:23px">How to use this page</button>
<span class="t" style="right:3px;top:844px;font-size:12.71px">Last Updated: March 11, 2020 02:45:12</span>
</div></body></html>
